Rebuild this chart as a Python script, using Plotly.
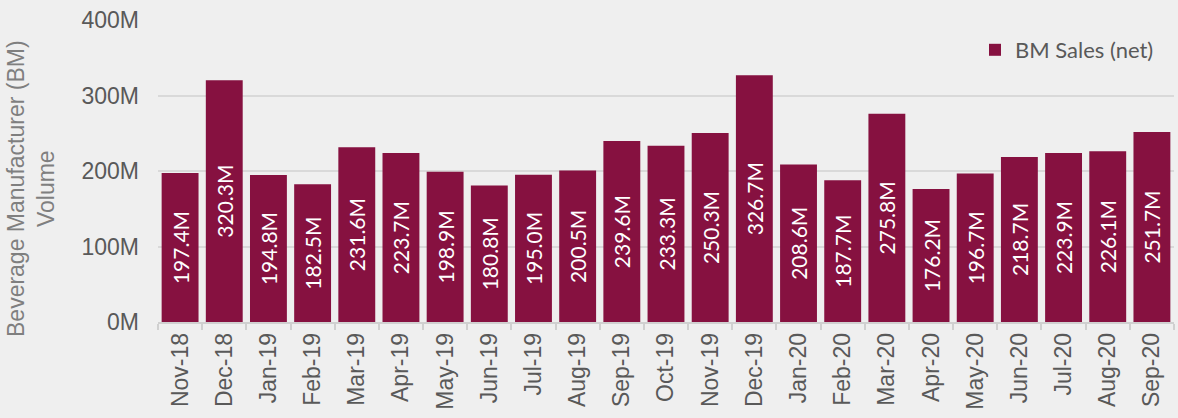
import plotly.graph_objects as go

months = ["Nov-18", "Dec-18", "Jan-19", "Feb-19", "Mar-19", "Apr-19", "May-19", "Jun-19",
          "Jul-19", "Aug-19", "Sep-19", "Oct-19", "Nov-19", "Dec-19", "Jan-20", "Feb-20",
          "Mar-20", "Apr-20", "May-20", "Jun-20", "Jul-20", "Aug-20", "Sep-20"]
sales_m = [197.4, 320.3, 194.8, 182.5, 231.6, 223.7, 198.9, 180.8, 195.0, 200.5, 239.6, 233.3,
           250.3, 326.7, 208.6, 187.7, 275.8, 176.2, 196.7, 218.7, 223.9, 226.1, 251.7]
y_ticks = [0, 100, 200, 300, 400]

bar_color = "#861140"
bg = "#efefef"

L, T, B, R = 158, 20, 96, 4
W, H = 1178, 418
pw = W - L - R
ph = H - T - B

fig = go.Figure()
fig.add_trace(go.Bar(
    x=months, y=sales_m, name="BM Sales (net)",
    marker=dict(color=bar_color, line=dict(width=0)),
    text=[f"{v:.1f}M" for v in sales_m],
    textposition="inside", textangle=-90, insidetextanchor="middle",
    constraintext="none",
    textfont=dict(family="Lato", size=21, color="white"),
    hoverinfo="x+y",
))

fig.update_layout(
    width=W, height=H,
    margin=dict(l=L, r=R, t=T, b=B, autoexpand=False),
    paper_bgcolor=bg, plot_bgcolor=bg,
    bargap=0.165,
    showlegend=True,
    legend=dict(x=(975 - L) / pw, y=(H - B - 29) / ph, xanchor="left", yanchor="top",
                bgcolor="rgba(0,0,0,0)",
                font=dict(family="Lato", size=22, color="#595959")),
    xaxis=dict(
        type="category", tickangle=-90,
        tickfont=dict(family="Liberation Sans, Arial", size=23, color="#595959"),
        showline=True, linecolor="#d0d0d0", linewidth=1.5,
        ticks="outside", tickson="boundaries", ticklen=6, tickcolor="#d0d0d0", tickwidth=1.5,
        showgrid=False,
    ),
    yaxis=dict(
        range=[0, 400], tickvals=y_ticks, ticktext=[f"{v}M" for v in y_ticks],
        tickfont=dict(family="Liberation Sans, Arial", size=23, color="#595959"),
        showgrid=True, gridcolor="#d9d9d9", gridwidth=2,
        zeroline=False, ticks="", ticklabelstandoff=18,
    ),
    annotations=[dict(
        text="Beverage Manufacturer (BM)<br>Volume",
        xref="paper", yref="paper", x=(31 - L) / pw, y=(H - B - 189) / ph,
        xanchor="center", yanchor="middle", textangle=-90, showarrow=False,
        font=dict(family="Liberation Sans, Arial", size=23, color="#7f7f7f"),
    )],
)

fig.write_html(
    "out.html",
    config={"displayModeBar": False},
    post_script="document.body.style.margin='0';document.body.style.overflow='hidden';",
)
